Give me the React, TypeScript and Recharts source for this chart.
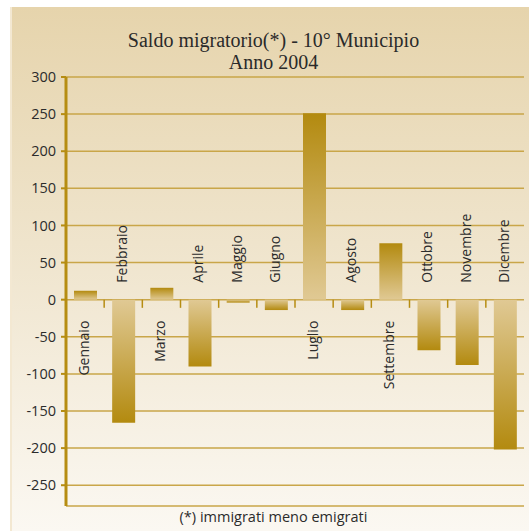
import React from "react";
import {
  BarChart,
  Bar,
  XAxis,
  YAxis,
  CartesianGrid,
  Cell,
  LabelList,
  ReferenceLine,
} from "recharts";

const months = [
  "Gennaio",
  "Febbraio",
  "Marzo",
  "Aprile",
  "Maggio",
  "Giugno",
  "Luglio",
  "Agosto",
  "Settembre",
  "Ottobre",
  "Novembre",
  "Dicembre",
];
const saldo = [12, -166, 16, -90, -4, -14, 251, -14, 76, -68, -88, -202];
const yTicks = [300, 250, 200, 150, 100, 50, 0, -50, -100, -150, -200, -250];

const data = months.map((m, i) => ({ month: m, pos: i + 0.5, saldo: saldo[i] }));
const boundaries = months.slice(1).map((_, i) => i + 1);

const GOLD = "#b68d12";
const GRID = "#c9a649";
const FONT = "'Open Sans', 'DejaVu Sans', sans-serif";

const MonthLabel = (props: any) => {
  const { x, y, width, height, index } = props;
  const v = saldo[index];
  const cx = x + width / 2 - 2;
  const zero = v >= 0 ? Math.max(y, y + height) : Math.min(y, y + height);
  const ty = v >= 0 ? zero + 21 : zero - 17;
  return (
    <text
      x={cx}
      y={ty}
      transform={`rotate(-90 ${cx} ${ty})`}
      textAnchor={v >= 0 ? "end" : "start"}
      dominantBaseline="central"
      fontFamily={FONT}
      fontSize={14}
      fill="#2b2b2b"
    >
      {months[index]}
    </text>
  );
};

export default function App() {
  return (
    <div style={{ position: "absolute", left: 0, top: 0, width: 529, height: 531 }}>
      {/* pannello di sfondo */}
      <div
        style={{
          position: "absolute",
          left: 10,
          top: 7,
          width: 519,
          height: 524,
          background: "linear-gradient(to bottom, #e6d4ac 0%, #efe4cc 45%, #fbf8f2 100%)",
          borderLeft: "2px solid #f3e8d2",
          boxSizing: "border-box",
        }}
      />
      <div
        style={{
          position: "absolute",
          left: 14,
          width: 519,
          top: 29,
          textAlign: "center",
          fontFamily: "'Liberation Serif', serif",
          fontSize: 20,
          lineHeight: "22px",
          color: "#2a2a2a",
        }}
      >
        Saldo migratorio(*) - 10° Municipio
        <br />
        Anno 2004
      </div>
      <div style={{ position: "absolute", left: 0, top: 0 }}>
        <BarChart
          width={529}
          height={531}
          data={data}
          margin={{ top: 77, right: 5, left: 0, bottom: 25 }}
        >
          <defs>
            <linearGradient id="gradPos" x1="0" y1="0" x2="0" y2="1">
              <stop offset="0%" stopColor="#b38a0f" />
              <stop offset="100%" stopColor="#e0c994" />
            </linearGradient>
            <linearGradient id="gradNeg" x1="0" y1="0" x2="0" y2="1">
              <stop offset="0%" stopColor="#e0c994" />
              <stop offset="100%" stopColor="#b38a0f" />
            </linearGradient>
          </defs>
          <CartesianGrid vertical={false} stroke={GRID} strokeWidth={1.5} />
          <XAxis dataKey="pos" type="number" domain={[0, 12]} hide />
          <YAxis
            type="number"
            domain={[-278, 300]}
            ticks={yTicks}
            interval={0}
            width={66}
            axisLine={{ stroke: GOLD, strokeWidth: 3 }}
            tickLine={{ stroke: GOLD, strokeWidth: 2 }}
            tickSize={5}
            tickMargin={5}
            tick={{ fontFamily: FONT, fontSize: 14.5, fill: "#2b2b2b" }}
          />
          {boundaries.map((b) => (
            <ReferenceLine
              key={b}
              segment={[
                { x: b, y: 0 },
                { x: b, y: -11 },
              ]}
              stroke={GOLD}
              strokeWidth={1.5}
            />
          ))}
          <Bar dataKey="saldo" barSize={23} isAnimationActive={false}>
            {data.map((d, i) => (
              <Cell key={i} fill={d.saldo >= 0 ? "url(#gradPos)" : "url(#gradNeg)"} />
            ))}
            <LabelList dataKey="saldo" content={MonthLabel} />
          </Bar>
        </BarChart>
      </div>
      <div
        style={{
          position: "absolute",
          left: 14,
          width: 519,
          top: 507,
          textAlign: "center",
          fontFamily: FONT,
          fontSize: 14.5,
          color: "#2b2b2b",
        }}
      >
        (*) immigrati meno emigrati
      </div>
    </div>
  );
}
